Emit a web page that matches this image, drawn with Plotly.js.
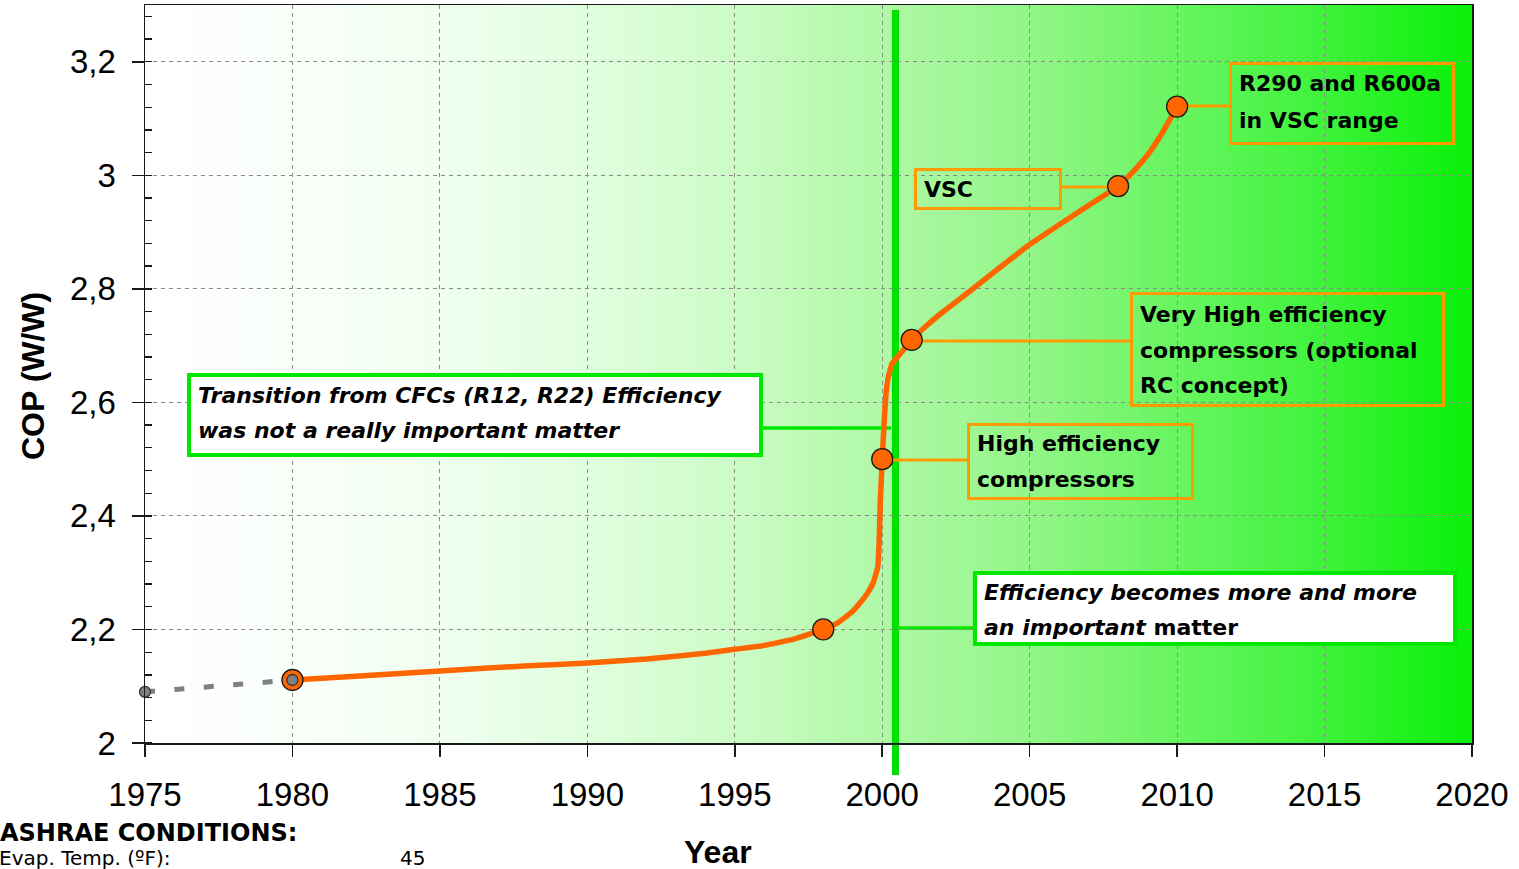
<!DOCTYPE html>
<html><head><meta charset="utf-8">
<script src="https://cdn.plot.ly/plotly-3.0.1.min.js"></script>
<style>html,body{margin:0;padding:0;background:#fff;overflow:hidden}</style>
</head><body>
<div id="chart" style="width:1519px;height:869px"></div>
<script>
// ---------------- data ----------------
const xTickYears = [1975, 1980, 1985, 1990, 1995, 2000, 2005, 2010, 2015, 2020];
const xTickLabels = ['1975', '1980', '1985', '1990', '1995', '2000', '2005', '2010', '2015', '2020'];
const yTickValues = [2, 2.2, 2.4, 2.6, 2.8, 3, 3.2];
const yTickLabels = ['2', '2,2', '2,4', '2,6', '2,8', '3', '3,2'];

const milestoneYears = [1980, 1998, 2000, 2001, 2008, 2010];
const milestoneCOP = [2.111, 2.2, 2.5, 2.71, 2.981, 3.121];

const curveYears = [1980, 1982, 1985, 1988, 1990, 1992, 1994, 1995, 1996, 1997, 1998, 1998.5, 1999, 1999.3, 1999.5, 1999.7, 1999.85, 1999.9, 1999.93, 2000, 2000.06, 2000.12, 2000.2, 2000.33, 2000.6, 2001, 2001.5, 2002, 2003, 2004, 2005, 2006, 2007, 2008, 2008.5, 2009, 2009.5, 2010];
const curveCOP = [2.111, 2.117, 2.127, 2.136, 2.141, 2.148, 2.158, 2.165, 2.172, 2.183, 2.2, 2.212, 2.232, 2.25, 2.264, 2.283, 2.31, 2.36, 2.42, 2.5, 2.56, 2.61, 2.643, 2.668, 2.685, 2.71, 2.735, 2.757, 2.797, 2.838, 2.878, 2.913, 2.947, 2.981, 3.006, 3.036, 3.075, 3.121];

const earlyYears = [1975, 1980];
const earlyCOP = [2.09, 2.111];

const transitionYear = [2000.45];

const noteTransition = ['<b><i>Transition from CFCs (R12, R22) Efficiency</i></b>', '<b><i>was not a really important matter</i></b>'];
const noteEfficiency = ['<b><i>Efficiency becomes more and more</i></b>', '<b><i>an important</i> matter</b>'];
const noteHigh = ['<b>High efficiency</b>', '<b>compressors</b>'];
const noteVeryHigh = ['<b>Very High efficiency</b>', '<b>compressors (optional</b>', '<b>RC concept)</b>'];
const noteVSC = ['<b>VSC</b>'];
const noteR290 = ['<b>R290 and R600a</b>', '<b>in VSC range</b>'];

// ---------------- styling / layout helpers ----------------
const L = 145, T = 5, W = 1327, H = 738;
const PX = p => (p - L) / W;
const PY = p => (T + H - p) / H;

const bgStops = [
  [1975, [255, 255, 255]],
  [1980, [250, 255, 250]],
  [1985, [240, 255, 240]],
  [1990, [224, 254, 222]],
  [1995, [204, 252, 198]],
  [2000, [176, 248, 166]],
  [2005, [146, 246, 136]],
  [2010, [104, 244, 96]],
  [2015, [62, 243, 58]],
  [2020, [8, 240, 8]]
];
function bgColor(x) {
  for (let i = 0; i < bgStops.length - 1; i++) {
    const a = bgStops[i], b = bgStops[i + 1];
    if (x >= a[0] && x <= b[0]) {
      const t = (x - a[0]) / (b[0] - a[0]);
      const c = a[1].map((v, k) => Math.round(v + (b[1][k] - v) * t));
      return 'rgb(' + c.join(',') + ')';
    }
  }
  return 'rgb(8,240,8)';
}

const shapes = [];
const nSlices = 180;
const step = (2020 - 1975) / nSlices;
for (let i = 0; i < nSlices; i++) {
  const x0 = 1975 + i * step;
  shapes.push({type: 'rect', xref: 'x', yref: 'paper', x0: x0, x1: Math.min(2020, x0 + step * 1.6), y0: 0, y1: 1,
    fillcolor: bgColor(x0 + step / 2), line: {width: 0}, layer: 'below'});
}

const GREEN = '#00e800', ORANGE = '#ff9a00', CURVE = '#ff6600';

// vertical transition line
shapes.push({type: 'line', xref: 'x', yref: 'paper', x0: transitionYear[0], x1: transitionYear[0], y0: PY(775), y1: PY(10),
  line: {color: '#00e000', width: 7}, layer: 'between'});

// connectors
function hline(p0, p1, py, color, w) {
  shapes.push({type: 'line', xref: 'paper', yref: 'paper', x0: PX(p0), x1: PX(p1), y0: PY(py), y1: PY(py),
    line: {color: color, width: w}, layer: 'between'});
}
hline(763, 891, 428, GREEN, 3.5);
hline(898, 973, 628, GREEN, 3.5);
hline(881, 967, 460, ORANGE, 3);
hline(910, 1130, 341, ORANGE, 3);
hline(1062, 1117, 187, ORANGE, 3);
hline(1176, 1229, 106, ORANGE, 3);

// boxes
function box(x0, x1, y0, y1, color, w, fill) {
  shapes.push({type: 'rect', xref: 'paper', yref: 'paper', x0: PX(x0 + w / 2), x1: PX(x1 - w / 2), y0: PY(y1 - w / 2), y1: PY(y0 + w / 2),
    fillcolor: fill, line: {color: color, width: w}, layer: 'above'});
}
box(187, 763, 373, 457, GREEN, 4, '#ffffff');
box(973, 1457, 571, 646, GREEN, 4, '#ffffff');
box(967, 1194, 423, 500, ORANGE, 3, 'rgba(0,0,0,0)');
box(1130, 1445, 292, 407, ORANGE, 3, 'rgba(0,0,0,0)');
box(914, 1062, 168, 210, ORANGE, 3, 'rgba(0,0,0,0)');
box(1229, 1455, 62, 145, ORANGE, 3, 'rgba(0,0,0,0)');

// annotations
const annotations = [];
const noteFont = {family: 'DejaVu Sans', size: 22, color: '#000'};
function lines(arr, px, pys) {
  arr.forEach((t, i) => annotations.push({text: t, xref: 'paper', yref: 'paper', x: PX(px), y: PY(pys[i]),
    xanchor: 'left', yanchor: 'middle', showarrow: false, font: noteFont, borderpad: 0}));
}
lines(noteTransition, 197, [395, 430]);
lines(noteEfficiency, 983, [592, 627]);
lines(noteHigh, 976, [444, 479]);
lines(noteVeryHigh, 1139, [315, 350, 385]);
lines(noteVSC, 923, [190]);
lines(noteR290, 1238, [84, 120]);

annotations.push({text: '<b>Year</b>', xref: 'paper', yref: 'paper', x: PX(718), y: PY(852), xanchor: 'center', yanchor: 'middle',
  showarrow: false, font: {family: 'Liberation Sans', size: 32, color: '#000'}});
annotations.push({text: '<b>COP (W/W)</b>', xref: 'paper', yref: 'paper', x: PX(33), y: PY(376), xanchor: 'center', yanchor: 'middle',
  textangle: -90, showarrow: false, font: {family: 'Liberation Sans', size: 32, color: '#000'}});
annotations.push({text: '<b>ASHRAE CONDITIONS:</b>', xref: 'paper', yref: 'paper', x: PX(-1), y: PY(833), xanchor: 'left', yanchor: 'middle',
  showarrow: false, font: {family: 'DejaVu Sans', size: 24, color: '#000'}, borderpad: 0});
annotations.push({text: 'Evap. Temp. (ºF):', xref: 'paper', yref: 'paper', x: PX(-2), y: PY(858), xanchor: 'left', yanchor: 'middle',
  showarrow: false, font: {family: 'DejaVu Sans', size: 20, color: '#000'}, borderpad: 0});
annotations.push({text: '45', xref: 'paper', yref: 'paper', x: PX(399), y: PY(858), xanchor: 'left', yanchor: 'middle',
  showarrow: false, font: {family: 'DejaVu Sans', size: 20, color: '#000'}, borderpad: 0});

// ---------------- traces ----------------
const traces = [
  {x: earlyYears, y: earlyCOP, type: 'scatter', mode: 'lines', line: {color: '#808080', width: 5, dash: '10px,19.5px'}, hoverinfo: 'skip'},
  {x: curveYears, y: curveCOP, type: 'scatter', mode: 'lines', line: {color: CURVE, width: 5.5, shape: 'spline', smoothing: 0.3}, hoverinfo: 'skip'},
  {x: milestoneYears, y: milestoneCOP, type: 'scatter', mode: 'markers', cliponaxis: false,
    marker: {color: CURVE, size: 21, line: {color: '#1a1a1a', width: 1.3}}},
  {x: earlyYears, y: earlyCOP, type: 'scatter', mode: 'markers', cliponaxis: false,
    marker: {color: '#808080', size: 11, line: {color: '#333', width: 1.3}}}
];

const axisCommon = {
  showline: true, linecolor: '#1a1a1a', linewidth: 1.5, mirror: true,
  ticks: 'outside', ticklen: 12, tickwidth: 1.5, tickcolor: '#1a1a1a',
  showgrid: true, gridcolor: '#8a8a8a', gridwidth: 1, griddash: '4px,4px',
  zeroline: false, tickmode: 'array',
  tickfont: {family: 'Liberation Sans', size: 33, color: '#000'}
};

const layout = {
  width: 1519, height: 869, autosize: false,
  margin: {l: L, r: 1519 - L - W, t: T, b: 869 - T - H},
  paper_bgcolor: '#ffffff', plot_bgcolor: '#ffffff',
  showlegend: false,
  xaxis: Object.assign({}, axisCommon, {range: [1975, 2020], tickvals: xTickYears, ticktext: xTickLabels, ticklabelstandoff: 10}),
  yaxis: Object.assign({}, axisCommon, {range: [2, 3.3], tickvals: yTickValues, ticktext: yTickLabels, ticklabelstandoff: 9,
    minor: {tickmode: 'linear', tick0: 2, dtick: 0.04, ticks: 'inside', ticklen: 7, tickwidth: 1.3, tickcolor: '#1a1a1a', showgrid: false}}),
  shapes: shapes,
  annotations: annotations
};

Plotly.newPlot('chart', traces, layout, {displayModeBar: false, staticPlot: true});
</script>
</body></html>
